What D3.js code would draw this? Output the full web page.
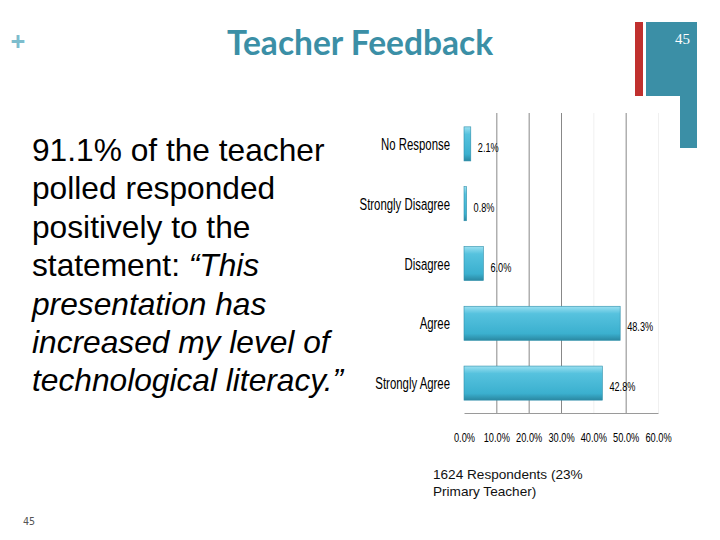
<!DOCTYPE html>
<html>
<head>
<meta charset="utf-8">
<script src="https://cdn.jsdelivr.net/npm/d3@7"></script>
<style>
  body { margin: 0; background: #fff; }
  svg { display: block; }
</style>
</head>
<body>
<div id="container"></div>
<script>
// chart data
const categories = ['No Response', 'Strongly Disagree', 'Disagree', 'Agree', 'Strongly Agree'];
const values = [2.1, 0.8, 6.0, 48.3, 42.8];
const tickValues = [0, 10, 20, 30, 40, 50, 60];
const bodyLines = [
    [{ t: '91.1% of the teacher', i: false }],
    [{ t: 'polled responded', i: false }],
    [{ t: 'positively to the', i: false }],
    [{ t: 'statement: ', i: false }, { t: '\u201cThis', i: true }],
    [{ t: 'presentation has', i: true }],
    [{ t: 'increased my level of', i: true }],
    [{ t: 'technological literacy.\u201d', i: true }]
];
const noteLines = ['1624 Respondents (23%', 'Primary Teacher)'];

// svg size
const w = 720;
const h = 540;
const teal = '#3b8fa6';
const sans = '"Liberation Sans", Arial, sans-serif';

const svg = d3.select('#container')
                .append('svg')
                .attr('width', w)
                .attr('height', h);

// slide decoration
svg.append('rect').attr('x', 635).attr('y', 22).attr('width', 8).attr('height', 74).attr('fill', '#c0302e');
svg.append('path')
    .attr('d', 'M646,22 H697 V148 H680 V96 H646 Z')
    .attr('fill', teal);
svg.append('text')
    .attr('x', 690).attr('y', 44)
    .attr('text-anchor', 'end')
    .attr('fill', '#fff')
    .style('font', '15px "Liberation Serif", serif')
    .text('45');

svg.append('text')
    .attr('x', 18).attr('y', 51)
    .attr('text-anchor', 'middle')
    .attr('fill', '#7dbdcd')
    .style('font', 'bold 26px "Open Sans", sans-serif')
    .text('+');

// title
svg.append('text')
    .attr('x', 360).attr('y', 55)
    .attr('text-anchor', 'middle')
    .attr('fill', teal)
    .style('font', 'bold 33.5px Lato, sans-serif')
    .text('Teacher Feedback');

// left text block
const body = svg.append('text')
    .attr('fill', '#000')
    .style('font', '31.7px ' + sans);
bodyLines.forEach((line, k) => {
    line.forEach((part, j) => {
        const ts = body.append('tspan')
            .style('font-style', part.i ? 'italic' : 'normal')
            .text(part.t);
        if (j === 0) ts.attr('x', 32).attr('y', 161 + k * 38.4);
    });
});

// scales
const xScale = d3.scaleLinear()
                .domain([0, 60])
                .range([464, 658]);

const yScale = d3.scaleBand()
                .domain(categories)
                .range([114, 413])
                .paddingInner(0.43)
                .paddingOuter(0.215);

// bar gradient
const defs = svg.append('defs');
const grad = defs.append('linearGradient')
    .attr('id', 'barGrad')
    .attr('x1', 0).attr('y1', 0).attr('x2', 0).attr('y2', 1);
grad.append('stop').attr('offset', '0%').attr('stop-color', '#9be0f1');
grad.append('stop').attr('offset', '22%').attr('stop-color', '#56c2de');
grad.append('stop').attr('offset', '80%').attr('stop-color', '#3bb0cf');
grad.append('stop').attr('offset', '100%').attr('stop-color', '#2a88a2');

// grid lines and baseline
const gridAxis = d3.axisBottom(xScale)
                .tickValues(tickValues.slice(1))
                .tickSize(-(413 - 113))
                .tickSizeOuter(0)
                .tickFormat('');

const grid = svg.append('g')
    .attr('transform', 'translate(0, 413)')
    .call(gridAxis);
grid.selectAll('.tick line')
    .attr('stroke', d => (d === 40 || d === 60) ? '#f0f0f0' : '#888')
    .attr('stroke-width', 1);
grid.select('.domain').attr('stroke', '#9a9a9a');

// bars
svg.selectAll('.bar')
    .data(values)
    .enter()
    .append('rect')
    .attr('class', 'bar')
    .attr('x', xScale(0))
    .attr('y', (d, i) => yScale(categories[i]))
    .attr('width', d => xScale(d) - xScale(0))
    .attr('height', yScale.bandwidth())
    .attr('fill', 'url(#barGrad)')
    .attr('stroke', '#2e8fab')
    .attr('stroke-width', 0.6);

// value labels
svg.selectAll('.val')
    .data(values)
    .enter()
    .append('text')
    .attr('class', 'val')
    .attr('transform', (d, i) => `translate(${xScale(d) + 7}, ${yScale(categories[i]) + yScale.bandwidth() / 2 + 8}) scale(0.68, 1)`)
    .attr('fill', '#000')
    .style('font', '13.5px ' + sans)
    .text(d => d3.format('.1f')(d) + '%');

// category labels
svg.selectAll('.cat')
    .data(categories)
    .enter()
    .append('text')
    .attr('class', 'cat')
    .attr('transform', d => `translate(${xScale(0) - 14}, ${yScale(d) + yScale.bandwidth() / 2 + 6}) scale(0.67, 1)`)
    .attr('text-anchor', 'end')
    .attr('fill', '#000')
    .style('font', '17px ' + sans)
    .text(d => d);

// x tick labels
const xAxis = d3.axisBottom(xScale)
                .tickValues(tickValues)
                .tickSize(0)
                .tickFormat(d => d3.format('.1f')(d) + '%');

const xg = svg.append('g')
    .attr('transform', 'translate(0, 413)')
    .call(xAxis);
xg.select('.domain').remove();
xg.selectAll('.tick text')
    .attr('y', null).attr('dy', null)
    .attr('transform', 'translate(0, 29) scale(0.74, 1)')
    .attr('fill', '#000')
    .style('font', '12.5px ' + sans);

// respondents note
svg.selectAll('.note')
    .data(noteLines)
    .enter()
    .append('text')
    .attr('class', 'note')
    .attr('x', 433)
    .attr('y', (d, i) => 479 + i * 17)
    .attr('fill', '#111')
    .style('font', '13.6px ' + sans)
    .text(d => d);

// page number bottom left
svg.append('text')
    .attr('x', 23).attr('y', 525)
    .attr('fill', '#555')
    .style('font', '10px "DejaVu Sans Mono", monospace')
    .text('45');
</script>
</body>
</html>
